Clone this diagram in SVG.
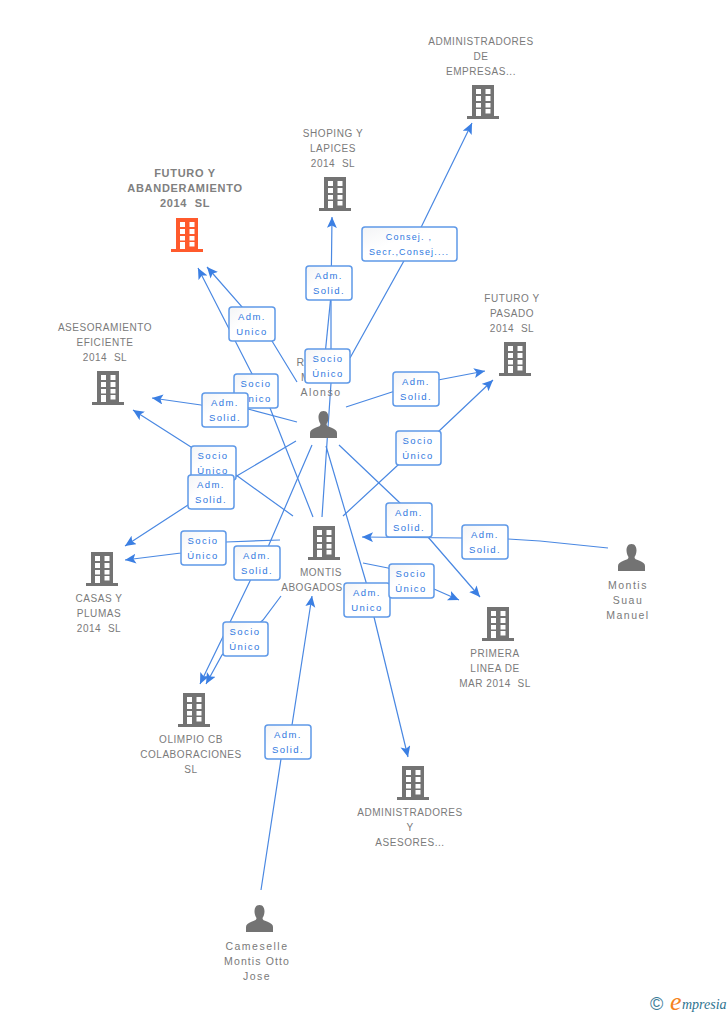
<svg xmlns="http://www.w3.org/2000/svg" width="728" height="1015" viewBox="0 0 728 1015">
<style>
text{font-family:"Liberation Sans",Arial,sans-serif;white-space:pre}
.n{font-size:10px;fill:#7a7a7a;text-anchor:middle;letter-spacing:.55px}
.m{font-size:10.5px;letter-spacing:1.5px}
.b{font-weight:bold;fill:#808080;font-size:11px;letter-spacing:.7px}
.l{font-size:9.5px;fill:#2f78e0;text-anchor:middle;letter-spacing:1.4px}
.c{fill:none;stroke:#4a88e2;stroke-width:1.2}
.r{fill:url(#g);stroke:#5f99e8;stroke-width:1.5}
</style>
<defs>
<linearGradient id="g" x1="0" y1="0" x2="1" y2="1"><stop offset="0" stop-color="#f3f4f6"/><stop offset=".4" stop-color="#fff"/></linearGradient>
<marker id="a" markerUnits="userSpaceOnUse" markerWidth="14" markerHeight="12" refX="11" refY="5" orient="auto"><path d="M11 5L0 0L2.500 5L0 10Z" fill="#3b7fe3"/></marker>
<path id="bd" fill-rule="evenodd" d="M5 0H27V31H32V34H0V31H5ZM9 4V9H14V4ZM18.500 4V9H23.500V4ZM9 11V16H14V11ZM18.500 11V16H23.500V11ZM9 18V22.500H14V18ZM18.500 18V22.500H23.500V18ZM9 24V31H14V24ZM18.500 24V28.500H23.500V24Z"/>
<path id="pr" d="M13.500 0C9.500 0 8.500 3.500 8.500 6.500C8.500 9 9.500 11.500 10.500 13C10.500 15 9 15.500 6 16.500C2 18 0 19.500 0 22V27H27V22C27 19.500 25 18 21 16.500C18 15.500 16.500 15 16.500 13C17.500 11.500 18.500 9 18.500 6.500C18.500 3.500 17.500 0 13.500 0Z"/>
</defs>
<rect width="728" height="1015" fill="#fff"/>
<g id="connectors">
<path class="c" marker-end="url(#a)" d="M297 382L272 341L207 267"/>
<path class="c" marker-end="url(#a)" d="M313 517L270 408L250 370L198 268"/>
<path class="c" marker-end="url(#a)" d="M322 517L331 383L331 300L332 217"/>
<path class="c" d="M325 355L331 295"/>
<path class="c" marker-end="url(#a)" d="M350 358L410 250L472 123"/>
<path class="c" marker-end="url(#a)" d="M346 407L392 392L438 380L485 371"/>
<path class="c" marker-end="url(#a)" d="M343 516L398 465L438 432L493 380"/>
<path class="c" marker-end="url(#a)" d="M297 422L248 409L201 405L152 398"/>
<path class="c" marker-end="url(#a)" d="M293 516L236 475L191 447L133 410"/>
<path class="c" marker-end="url(#a)" d="M296 441L235 477L188 505L125 546"/>
<path class="c" marker-end="url(#a)" d="M280 540L226 542L181 553L125 560"/>
<path class="c" marker-end="url(#a)" d="M312 445L268 547L250 581L200 684"/>
<path class="c" marker-end="url(#a)" d="M281 596L263 620L222 655L206 684"/>
<path class="c" marker-end="url(#a)" d="M326 446L366 582L374 617L408 757"/>
<path class="c" marker-end="url(#a)" d="M363 563L388 568L434 589L459 600"/>
<path class="c" marker-end="url(#a)" d="M339 445L400 503L428 537L480 597"/>
<path class="c" marker-end="url(#a)" d="M608 548L540 541L508 539L462 538L362 537"/>
<path class="c" marker-end="url(#a)" d="M261 890L281 759L292 725L312 596"/>
</g>
<g id="node-futuro-abanderamiento"><use href="#bd" x="171" y="218" fill="#ff5a2c"/><text class="n b" x="185" y="177">FUTURO Y</text><text class="n b" x="185" y="192">ABANDERAMIENTO</text><text class="n b" x="185" y="207">2014  SL</text></g>
<g id="node-administradores-empresas"><use href="#bd" x="467" y="85" fill="#737373"/><text class="n" x="481" y="45">ADMINISTRADORES</text><text class="n" x="481" y="60">DE</text><text class="n" x="481" y="75">EMPRESAS...</text></g>
<g id="node-shoping"><use href="#bd" x="319" y="177" fill="#737373"/><text class="n" x="333" y="137">SHOPING Y</text><text class="n" x="333" y="152">LAPICES</text><text class="n" x="333" y="167">2014  SL</text></g>
<g id="node-futuro-pasado"><use href="#bd" x="499" y="342" fill="#737373"/><text class="n" x="512" y="302">FUTURO Y</text><text class="n" x="512" y="317">PASADO</text><text class="n" x="512" y="332">2014  SL</text></g>
<g id="node-asesoramiento"><use href="#bd" x="92" y="371" fill="#737373"/><text class="n" x="105" y="331">ASESORAMIENTO</text><text class="n" x="105" y="346">EFICIENTE</text><text class="n" x="105" y="361">2014  SL</text></g>
<g id="node-persona-alonso"><use href="#pr" x="310" y="411" fill="#737373"/><text class="n m" x="301" y="366">R</text><text class="n m" x="306" y="381">M</text><text class="n m" x="321" y="396">Alonso</text></g>
<g id="node-montis-abogados"><use href="#bd" x="308" y="526" fill="#737373"/><text class="n" x="321" y="576">MONTIS</text><text class="n" x="312" y="591">ABOGADOS</text></g>
<g id="node-casas-plumas"><use href="#bd" x="86" y="552" fill="#737373"/><text class="n" x="99" y="602">CASAS Y</text><text class="n" x="99" y="617">PLUMAS</text><text class="n" x="99" y="632">2014  SL</text></g>
<g id="node-montis-suau"><use href="#pr" x="618" y="544" fill="#737373"/><text class="n m" x="628" y="589">Montis</text><text class="n m" x="628" y="604">Suau</text><text class="n m" x="628" y="619">Manuel</text></g>
<g id="node-primera-linea"><use href="#bd" x="482" y="607" fill="#737373"/><text class="n" x="495" y="657">PRIMERA</text><text class="n" x="495" y="672">LINEA DE</text><text class="n" x="495" y="687">MAR 2014  SL</text></g>
<g id="node-olimpio"><use href="#bd" x="178" y="693" fill="#737373"/><text class="n" x="191" y="743">OLIMPIO CB</text><text class="n" x="191" y="758">COLABORACIONES</text><text class="n" x="191" y="773">SL</text></g>
<g id="node-administradores-asesores"><use href="#bd" x="397" y="766" fill="#737373"/><text class="n" x="410" y="816">ADMINISTRADORES</text><text class="n" x="410" y="831">Y</text><text class="n" x="410" y="846">ASESORES...</text></g>
<g id="node-cameselle"><use href="#pr" x="246" y="905" fill="#737373"/><text class="n m" x="257" y="950">Cameselle</text><text class="n m" x="257" y="965" style="letter-spacing:1.100px">Montis Otto</text><text class="n m" x="257" y="980">Jose</text></g>
<g id="edge-labels">
<g><rect class="r" x="229" y="307" width="46" height="34" rx="3"/><text class="l" x="252" y="320">Adm.</text><text class="l" x="252" y="335">Unico</text></g>
<g><rect class="r" x="306" y="266" width="46" height="34" rx="3"/><text class="l" x="329" y="279">Adm.</text><text class="l" x="329" y="294">Solid.</text></g>
<g><rect class="r" x="362" y="227" width="95" height="34" rx="3"/><text class="l" x="409" y="240" style="font-size:9px;letter-spacing:1.200px">Consej. ,</text><text class="l" x="409" y="255" style="font-size:9px;letter-spacing:1.200px">Secr.,Consej....</text></g>
<g><rect class="r" x="234" y="374" width="44" height="34" rx="3"/><text class="l" x="256" y="387">Socio</text><text class="l" x="256" y="402">Único</text></g>
<g><rect class="r" x="305" y="349" width="45" height="34" rx="3"/><text class="l" x="328" y="362">Socio</text><text class="l" x="328" y="377">Único</text></g>
<g><rect class="r" x="202" y="393" width="46" height="34" rx="3"/><text class="l" x="225" y="406">Adm.</text><text class="l" x="225" y="421">Solid.</text></g>
<g><rect class="r" x="393" y="372" width="46" height="34" rx="3"/><text class="l" x="416" y="385">Adm.</text><text class="l" x="416" y="400">Solid.</text></g>
<g><rect class="r" x="396" y="431" width="45" height="34" rx="3"/><text class="l" x="418" y="444">Socio</text><text class="l" x="418" y="459">Único</text></g>
<g><rect class="r" x="191" y="446" width="45" height="34" rx="3"/><text class="l" x="213" y="459">Socio</text><text class="l" x="213" y="474">Único</text></g>
<g><rect class="r" x="188" y="475" width="46" height="34" rx="3"/><text class="l" x="211" y="488">Adm.</text><text class="l" x="211" y="503">Solid.</text></g>
<g><rect class="r" x="181" y="531" width="45" height="34" rx="3"/><text class="l" x="203" y="544">Socio</text><text class="l" x="203" y="559">Único</text></g>
<g><rect class="r" x="234" y="546" width="46" height="34" rx="3"/><text class="l" x="257" y="559">Adm.</text><text class="l" x="257" y="574">Solid.</text></g>
<g><rect class="r" x="386" y="503" width="46" height="34" rx="3"/><text class="l" x="409" y="516">Adm.</text><text class="l" x="409" y="531">Solid.</text></g>
<g><rect class="r" x="462" y="525" width="46" height="34" rx="3"/><text class="l" x="485" y="538">Adm.</text><text class="l" x="485" y="553">Solid.</text></g>
<g><rect class="r" x="344" y="583" width="46" height="34" rx="3"/><text class="l" x="367" y="596">Adm.</text><text class="l" x="367" y="611">Unico</text></g>
<g><rect class="r" x="389" y="564" width="45" height="34" rx="3"/><text class="l" x="411" y="577">Socio</text><text class="l" x="411" y="592">Único</text></g>
<g><rect class="r" x="223" y="622" width="45" height="34" rx="3"/><text class="l" x="245" y="635">Socio</text><text class="l" x="245" y="650">Único</text></g>
<g><rect class="r" x="265" y="725" width="46" height="34" rx="3"/><text class="l" x="288" y="738">Adm.</text><text class="l" x="288" y="753">Solid.</text></g>
</g>
<g id="logo"><text x="650" y="1010" style="font-size:18px;fill:#3d7c98">©</text><text x="670" y="1010" style="font-family:'Liberation Serif',serif;font-style:italic;font-size:26px;fill:#f58220">e</text><text x="682" y="1009" style="font-family:'Liberation Serif',serif;font-style:italic;font-size:14px;fill:#2f7390">mpresia</text></g>
</svg>
